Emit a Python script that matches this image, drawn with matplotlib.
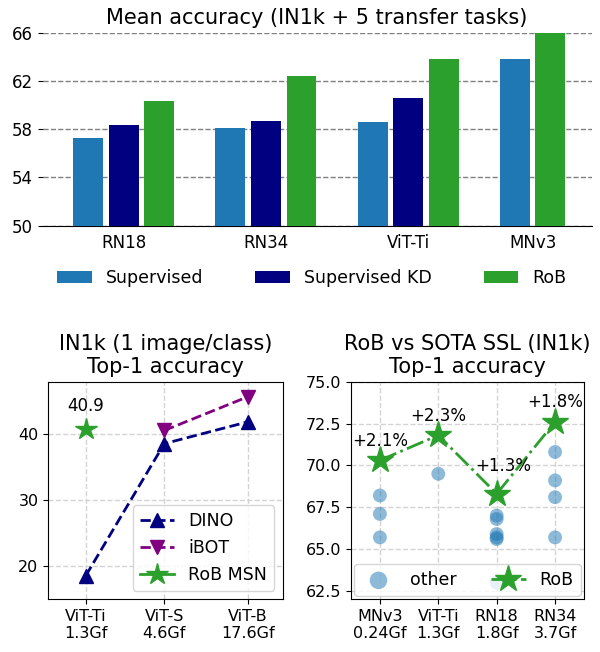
import matplotlib
matplotlib.use("Agg")
import matplotlib.pyplot as plt
import numpy as np

# top panel: mean accuracy over IN1k + 5 transfer tasks
groups = ['RN18', 'RN34', 'ViT-Ti', 'MNv3']
sup = [57.3, 58.1, 58.6, 63.8]
sup_kd = [58.3, 58.7, 60.6, None]  # no KD run for MNv3
rob = [60.3, 62.4, 63.8, 66.0]

# bottom-left: IN1k 1 image/class
vit_labels = ['ViT-Ti\n1.3Gf', 'ViT-S\n4.6Gf', 'ViT-B\n17.6Gf']
vit_gflops = [1.3, 4.6, 17.6]
dino = [18.6, 38.6, 41.9]
ibot = [None, 40.6, 45.7]
rob_msn = 40.9

# bottom-right: RoB vs SOTA SSL
arch_labels = ['MNv3\n0.24Gf', 'ViT-Ti\n1.3Gf', 'RN18\n1.8Gf', 'RN34\n3.7Gf']
other = [[68.2, 67.1, 65.7],
         [69.5],
         [67.0, 66.8, 65.9, 65.7, 65.6, 63.0],
         [70.8, 69.1, 68.1, 65.7]]
rob_ssl = [70.3, 71.8, 68.3, 72.6]
gains = ['+2.1%', '+2.3%', '+1.3%', '+1.8%']

fig = plt.figure(figsize=(6, 6.52), dpi=100)

# ---------------- top bar chart ----------------
ax0 = fig.add_axes([0.071, 0.654, 0.915, 0.296])
w = 0.21
off = 0.25
xs_sup, xs_kd, xs_rob, xt = [], [], [], []
for i in range(len(groups)):
    if sup_kd[i] is not None:
        xs_sup.append(i - off)
        xs_kd.append(i)
        xs_rob.append(i + off)
        xt.append(i)
    else:
        xs_sup.append(i - off)
        xs_rob.append(i)
        xt.append(i - off / 2)
kd_vals = [v for v in sup_kd if v is not None]
ax0.bar(xs_sup, sup, width=w, color='tab:blue', label='Supervised', zorder=3)
ax0.bar(xs_kd, kd_vals, width=w, color='navy', label='Supervised KD', zorder=3)
ax0.bar(xs_rob, rob, width=w, color='tab:green', label='RoB', zorder=3)
ax0.set_ylim(50, 66)
ax0.set_xlim(-0.57, 3.29)
ax0.set_yticks([50, 54, 58, 62, 66])
ax0.set_xticks(xt)
ax0.set_xticklabels(groups)
ax0.tick_params(axis='x', length=0, labelsize=12, pad=6)
ax0.tick_params(axis='y', labelsize=12)
for s in ['top', 'right', 'left']:
    ax0.spines[s].set_visible(False)
ax0.yaxis.grid(True, linestyle='--', color='gray', linewidth=1, zorder=0)
ax0.set_title('Mean accuracy (IN1k + 5 transfer tasks)', fontsize=15, pad=6)
ax0.legend(loc='upper center', bbox_to_anchor=(0.49, -0.145), ncol=3,
           frameon=False, fontsize=12.5, columnspacing=3.0)

# ---------------- bottom-left ----------------
ax1 = fig.add_axes([0.0805, 0.0808, 0.3907, 0.3338])
ax1.plot(vit_gflops, dino, '--^', color='navy', lw=2, ms=10, label='DINO')
ax1.plot(vit_gflops[1:], ibot[1:], '--v', color='purple', lw=2, ms=10, label='iBOT')
ax1.plot([vit_gflops[0]], [rob_msn], '-*', color='tab:green', lw=2, ms=16,
         label='RoB MSN')
ax1.annotate(f'{rob_msn}', (vit_gflops[0], rob_msn), xytext=(0, 16),
             textcoords='offset points', ha='center', va='center', fontsize=12)
ax1.set_xscale('log')
ax1.set_xlim(0.71, 31)
ax1.set_ylim(15, 48)
ax1.set_xticks(vit_gflops)
ax1.set_xticklabels(vit_labels)
ax1.xaxis.set_minor_locator(matplotlib.ticker.NullLocator())
ax1.set_yticks([20, 30, 40])
ax1.tick_params(labelsize=11.5)
ax1.grid(True, linestyle='--', color='lightgray', linewidth=1)
ax1.set_title('IN1k (1 image/class)\nTop-1 accuracy', fontsize=15)
ax1.legend(loc='lower right', fontsize=12.5)

# ---------------- bottom-right ----------------
ax2 = fig.add_axes([0.5845, 0.0808, 0.3893, 0.3338])
for i, vals in enumerate(other):
    ax2.scatter([i] * len(vals), vals, s=100, color='tab:blue', alpha=0.5,
                edgecolors='none', label='other' if i == 0 else None, zorder=2)
ax2.plot(range(len(rob_ssl)), rob_ssl, '-.*', color='tab:green', lw=2, ms=20,
         label='RoB', zorder=3)
txt_off = [(0, 14), (0, 14), (4.5, 20), (0, 14)]
for i, g in enumerate(gains):
    ax2.annotate(g, (i, rob_ssl[i]), xytext=txt_off[i], textcoords='offset points',
                 ha='center', va='center', fontsize=12)
ax2.set_xlim(-0.5, 3.5)
ax2.set_ylim(62, 75)
ax2.set_xticks(range(len(arch_labels)))
ax2.set_xticklabels(arch_labels)
ax2.set_yticks([62.5, 65.0, 67.5, 70.0, 72.5, 75.0])
ax2.yaxis.set_major_formatter(matplotlib.ticker.FormatStrFormatter('%.1f'))
ax2.tick_params(labelsize=11.5)
ax2.grid(True, linestyle='--', color='lightgray', linewidth=1)
ax2.set_title('RoB vs SOTA SSL (IN1k)\nTop-1 accuracy', fontsize=15)
leg = ax2.legend(loc='lower center', ncol=2, mode='expand', fontsize=12.5,
                 borderaxespad=0.2)
leg.legend_handles[0].set_sizes([160])  # bigger circle in legend, like the original

fig.savefig('out.png', dpi=100)
